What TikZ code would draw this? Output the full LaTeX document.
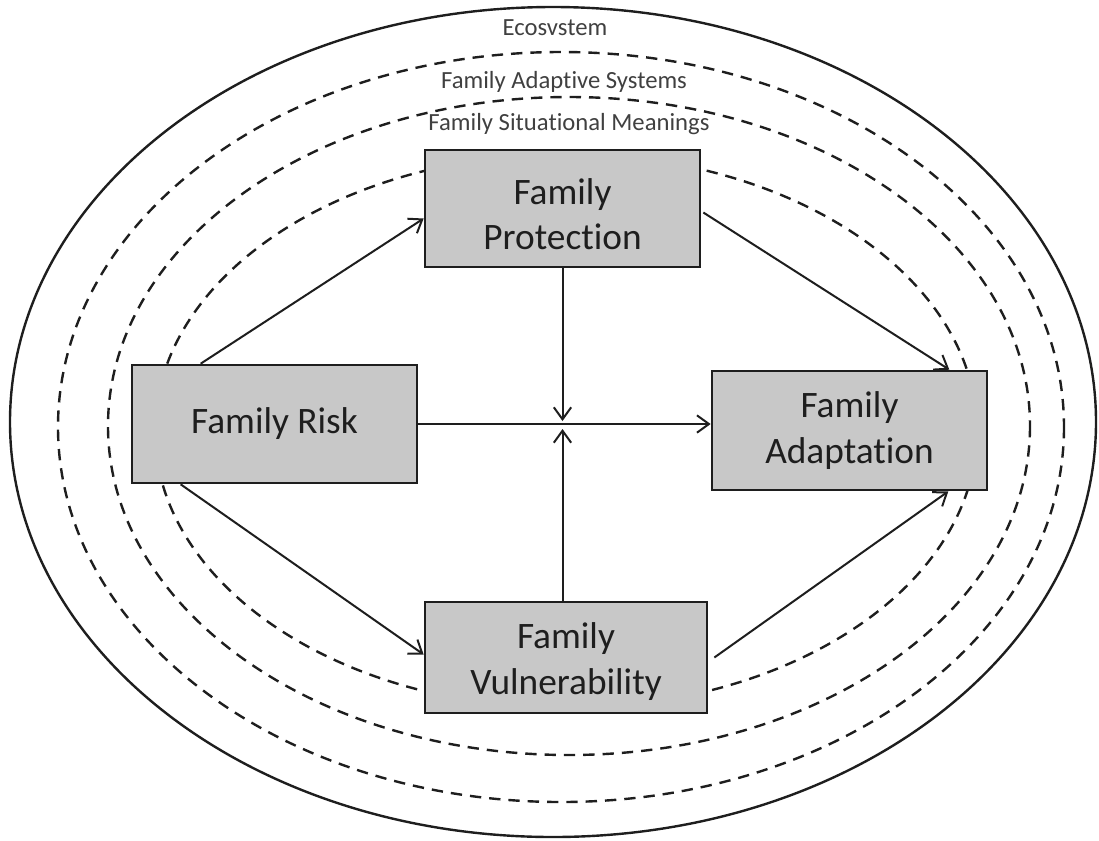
\documentclass[tikz,border=0pt]{standalone}
\usepackage{fontspec}
\setmainfont[Ligatures=NoCommon]{Carlito}
\usetikzlibrary{arrows.meta,calc}
\definecolor{ink}{RGB}{30,30,30}
\definecolor{boxfill}{RGB}{200,200,200}
\tikzset{
  ring/.style={draw=ink, line width=1.8pt},
  dring/.style={draw=ink, line width=1.8pt, dash pattern=on 8.5pt off 6pt},
  fbox/.style={draw=ink, line width=2pt, fill=boxfill, inner sep=0pt},
  ftext/.style={align=center, text=ink, font=\fontsize{28}{34}\selectfont, inner sep=0pt},
  lbl/.style={text=ink!85, font=\fontsize{18.5}{22}\selectfont, inner sep=0pt},
  conn/.style={draw=ink, line width=1.5pt, -{Straight Barb[length=9pt,width=13pt,line width=1.5pt]}},
}
\begin{document}
\begin{tikzpicture}[x=0.75pt,y=-0.75pt]
\useasboundingbox (0,0) rectangle (1099,840);
% ellipses
\draw[ring] (553,422) ellipse [x radius=543, y radius=415];
\draw[dring] (561,427) ellipse [x radius=503, y radius=375];
\draw[dring] (569,426) ellipse [x radius=461, y radius=329];
\draw[dring] (566,431) ellipse [x radius=411, y radius=277];
% labels
\node[lbl] (eco) at (555,28) {Ecosvstem};
\node[lbl] (fas) at (564,82) {Family Adaptive Systems};
\node[lbl] (fsm) at (569,124) {Family Situational Meanings};
% boxes
\node[fbox, minimum width=206.25pt, minimum height=87.75pt] (prot) at (562.5,208.5) {};
\node[ftext] (protT) at ($(prot)+(0,6)$) {Family\\Protection};
\node[fbox, minimum width=213.75pt, minimum height=88.5pt] (risk) at (274.5,424) {};
\node[ftext] (riskT) at (risk) {Family Risk};
\node[fbox, minimum width=206.25pt, minimum height=89.25pt] (adapt) at (849.5,430.5) {};
\node[ftext] (adaptT) at (adapt) {Family\\Adaptation};
\node[fbox, minimum width=211.5pt, minimum height=83.25pt] (vuln) at (566,657.5) {};
\node[ftext] (vulnT) at ($(vuln)+(0,4)$) {Family\\Vulnerability};
% crossing point
\coordinate (cross) at (prot.south |- risk.east);
% connectors
\draw[conn] ($(risk.north west)+(70,0)$) -- ($(prot.west)+(0,10)$);
\draw[conn] ($(prot.east)+(2,4)$) -- ($(adapt.north east)+(-39,0)$);
\draw[conn] ($(risk.south west)+(50,0)$) -- ($(vuln.west)+(0,-3)$);
\draw[conn] ($(vuln.east)+(6,0)$) -- ($(adapt.south east)+(-40,0)$);
\draw[conn] (risk.east) -- (risk.east -| adapt.west);
\draw[conn] (prot.south) -- ($(cross)+(0,-3)$);
\draw[conn] (prot.south |- vuln.north) -- ($(cross)+(0,5)$);
\end{tikzpicture}
\end{document}
